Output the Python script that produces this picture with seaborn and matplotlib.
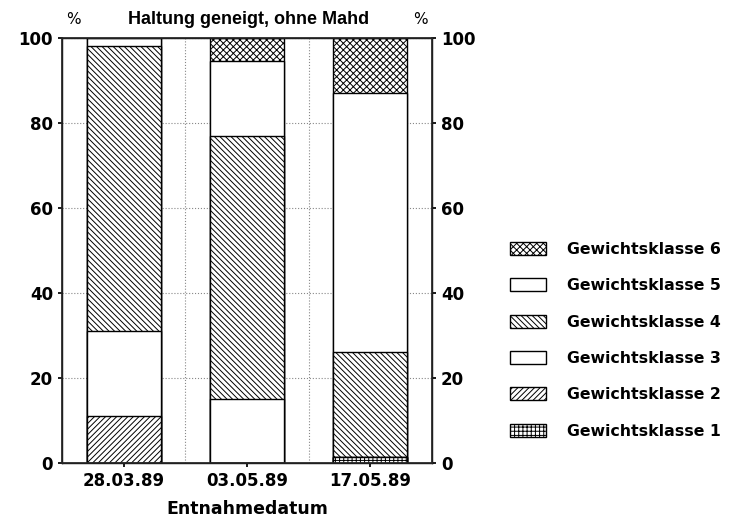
import matplotlib
matplotlib.use("Agg")
import matplotlib.pyplot as plt
from matplotlib.patches import Patch
import numpy as np
import seaborn as sns

# Values (percent per weight class, bottom to top)
dates = ["28.03.89", "03.05.89", "17.05.89"]
klasse1 = [0, 0, 1.3]
klasse2 = [11, 0, 0]
klasse3 = [20, 15, 0]
klasse4 = [67, 62, 24.7]
klasse5 = [2, 17.5, 61]
klasse6 = [0, 5.5, 13]
class_names = ["Gewichtsklasse 1", "Gewichtsklasse 2", "Gewichtsklasse 3",
               "Gewichtsklasse 4", "Gewichtsklasse 5", "Gewichtsklasse 6"]
hatches = ["++++", "//////", "", "\\\\\\\\\\\\", "", "xxxxx"]
yticks = [0, 20, 40, 60, 80, 100]

sns.set_theme(style="ticks")
plt.rcParams["font.family"] = ["DejaVu Sans"]
plt.rcParams["hatch.linewidth"] = 0.7
plt.rcParams["hatch.color"] = "black"
for key in ["text.color", "axes.labelcolor", "xtick.color", "ytick.color"]:
    plt.rcParams[key] = "black"

fig = plt.figure(figsize=(7.32, 5.2), dpi=100)
ax = fig.add_axes([0.0847, 0.1096, 0.5055, 0.8174])

# Stack by drawing cumulative totals from the top class down
series = [klasse1, klasse2, klasse3, klasse4, klasse5, klasse6]
cum = np.cumsum(np.array(series), axis=0)
for i in range(5, -1, -1):
    n_before = len(ax.patches)
    sns.barplot(x=dates, y=cum[i], color="white", saturation=1,
                edgecolor="black", linewidth=1.0, width=0.6, ax=ax)
    for p in ax.patches[n_before:]:
        p.set_hatch(hatches[i])
        p.set_facecolor("white")

ax.set_xlim(-0.5, 2.5)
ax.set_ylim(0, 100)
ax.set_yticks(yticks)
ax.set_xticks([0.5, 1.5], minor=True)
ax.grid(axis="y", which="major", linestyle=":", color="#888888", linewidth=0.8)
ax.grid(axis="x", which="minor", linestyle=":", color="#888888", linewidth=0.8)
ax.tick_params(axis="x", which="minor", length=0)
ax.set_axisbelow(True)
for s in ax.spines.values():
    s.set_visible(True)
    s.set_color("black")
    s.set_linewidth(1.0)

ax.tick_params(axis="both", which="major", labelsize=12, length=3, color="black")
for lbl in ax.get_xticklabels() + ax.get_yticklabels():
    lbl.set_fontweight("bold")
ax.set_xlabel("Entnahmedatum", fontsize=12.5, fontweight="bold", labelpad=7)
ax.set_ylabel("")

ax2 = ax.twinx()
ax2.set_ylim(0, 100)
ax2.set_yticks(yticks)
ax2.tick_params(axis="y", labelsize=12, length=3, color="black")
for lbl in ax2.get_yticklabels():
    lbl.set_fontweight("bold")
ax2.grid(False)

fig.text(0.339, 0.963, "Haltung geneigt, ohne Mahd", ha="center", va="center",
         fontsize=13, fontweight="bold", family=["Liberation Sans", "DejaVu Sans"])
fig.text(0.100, 0.963, "%", ha="center", va="center", fontsize=11)
fig.text(0.575, 0.963, "%", ha="center", va="center", fontsize=11)

handles = [Patch(facecolor="white", edgecolor="black", hatch=hatches[i], linewidth=1.0)
           for i in range(5, -1, -1)]
labels = [class_names[i] for i in range(5, -1, -1)]
fig.legend(handles, labels, loc="upper left", bbox_to_anchor=(0.697, 0.535),
           frameon=False, prop={"size": 11.3, "weight": "bold"}, handlelength=2.25,
           handleheight=0.92, handletextpad=1.35, labelspacing=1.36,
           borderpad=0, borderaxespad=0)

fig.savefig("out.png", dpi=100)
